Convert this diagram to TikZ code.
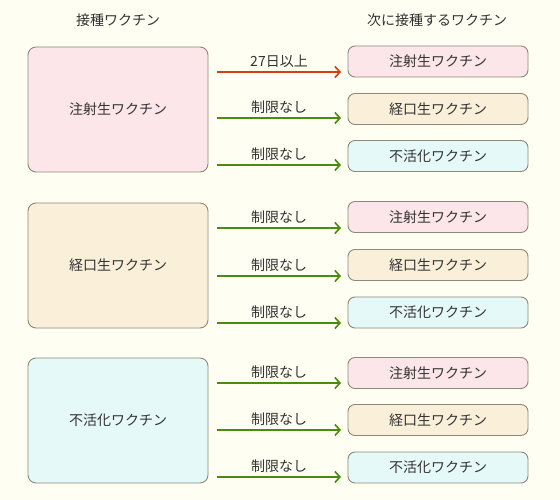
\documentclass[tikz,border=0pt]{standalone}
\usepackage{fontspec}
\setmainfont{Noto Sans CJK JP}
\usetikzlibrary{arrows.meta}

\definecolor{bgcream}{HTML}{FFFEF3}
\definecolor{boxline}{HTML}{8C887A}
\definecolor{txtgray}{HTML}{333333}
\definecolor{pinkfill}{HTML}{FCE6EA}
\definecolor{creamfill}{HTML}{FAF0DA}
\definecolor{cyanfill}{HTML}{E6F9F9}
\definecolor{waitred}{HTML}{D6400E}
\definecolor{okgreen}{HTML}{4C8C0C}

\begin{document}
\begin{tikzpicture}[x=1pt,y=-1pt,
    font=\fontsize{14pt}{16pt}\selectfont, text=txtgray,
    src/.style={draw=boxline, line width=0.9pt, rounded corners=8pt,
      minimum width=180pt, minimum height=125pt, inner sep=0pt},
    dst/.style={draw=boxline, line width=0.9pt, rounded corners=7pt,
      minimum width=180pt, minimum height=31pt, inner sep=0pt},
    lab/.style={above=2.5pt, inner sep=1pt, font=\fontsize{14pt}{16pt}\selectfont},
    wait/.style={draw=waitred, line width=1.6pt, -{Straight Barb[length=5pt,width=11pt,line width=1.6pt]}},
    ok/.style={draw=okgreen, line width=1.6pt, -{Straight Barb[length=5pt,width=11pt,line width=1.6pt]}}]
  \fill[bgcream] (0,0) rectangle (560,500);
  \useasboundingbox (0,0) rectangle (560,500);

  % headings
  \path
    (118,20) node (hfrom){接種ワクチン}
    (437,20) node (hto){次に接種するワクチン};

  % vaccine given first
  \path
    (118,109.5) node[src, fill=pinkfill] (inj){注射生ワクチン}
    (118,265.5) node[src, fill=creamfill] (oral){経口生ワクチン}
    (118,420.5) node[src, fill=cyanfill] (inact){不活化ワクチン};

  % next vaccine
  \path
    (438,61.5) node[dst, fill=pinkfill] (inj1){注射生ワクチン}
    (438,109) node[dst, fill=creamfill] (oral1){経口生ワクチン}
    (438,156) node[dst, fill=cyanfill] (inact1){不活化ワクチン}
    (438,217) node[dst, fill=pinkfill] (inj2){注射生ワクチン}
    (438,265) node[dst, fill=creamfill] (oral2){経口生ワクチン}
    (438,312.5) node[dst, fill=cyanfill] (inact2){不活化ワクチン}
    (438,373) node[dst, fill=pinkfill] (inj3){注射生ワクチン}
    (438,420) node[dst, fill=creamfill] (oral3){経口生ワクチン}
    (438,467.5) node[dst, fill=cyanfill] (inact3){不活化ワクチン};

  % arrow ends
  \path
    (217,72) coordinate (s1) (341,72) coordinate (e1)
    (217,118) coordinate (s2) (341,118) coordinate (e2)
    (217,165) coordinate (s3) (341,165) coordinate (e3)
    (217,228) coordinate (s4) (341,228) coordinate (e4)
    (217,276) coordinate (s5) (341,276) coordinate (e5)
    (217,323) coordinate (s6) (341,323) coordinate (e6)
    (217,383) coordinate (s7) (341,383) coordinate (e7)
    (217,430) coordinate (s8) (341,430) coordinate (e8)
    (217,477) coordinate (s9) (341,477) coordinate (e9);

  \draw[wait] (s1) -- node[lab]{27日以上} (e1);
  \begin{scope}[ok]
    \draw (s2) -- node[lab]{制限なし} (e2);
    \draw (s3) -- node[lab]{制限なし} (e3);
    \draw (s4) -- node[lab]{制限なし} (e4);
    \draw (s5) -- node[lab]{制限なし} (e5);
    \draw (s6) -- node[lab]{制限なし} (e6);
    \draw (s7) -- node[lab]{制限なし} (e7);
    \draw (s8) -- node[lab]{制限なし} (e8);
    \draw (s9) -- node[lab]{制限なし} (e9);
  \end{scope}
\end{tikzpicture}
\end{document}
